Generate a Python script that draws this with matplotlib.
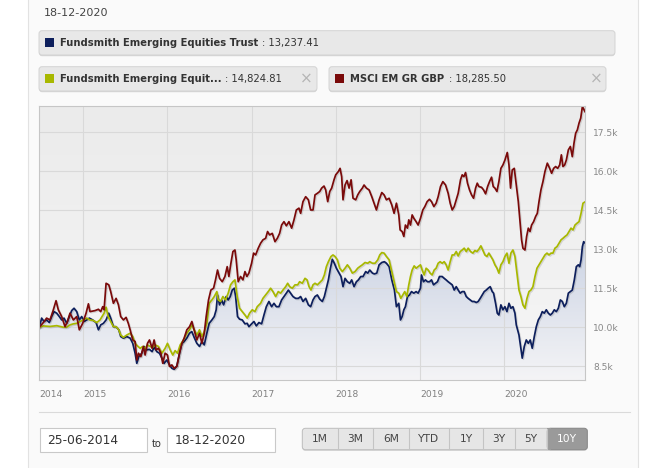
import numpy as np
import matplotlib.pyplot as plt
import matplotlib.patheffects as pe
from matplotlib.patches import FancyBboxPatch, Rectangle
from matplotlib.colors import LinearSegmentedColormap

# --- data (values in thousands, x = decimal year) ---
trust_t = [2014.476, 2014.504, 2014.532, 2014.563, 2014.595, 2014.623, 2014.651, 2014.683, 2014.714, 2014.742,
           2014.770, 2014.802, 2014.833, 2014.861, 2014.889, 2014.921, 2014.952, 2014.980, 2015.008, 2015.040,
           2015.071, 2015.111, 2015.151, 2015.179, 2015.206, 2015.238, 2015.270, 2015.302, 2015.325, 2015.357,
           2015.389, 2015.421, 2015.444, 2015.476, 2015.516, 2015.556, 2015.587, 2015.615, 2015.635, 2015.659,
           2015.694, 2015.722, 2015.754, 2015.786, 2015.817, 2015.841, 2015.873, 2015.905, 2015.933, 2015.960,
           2015.992, 2016.024, 2016.052, 2016.079, 2016.111, 2016.143, 2016.171, 2016.198, 2016.230, 2016.262,
           2016.290, 2016.317, 2016.349, 2016.381, 2016.409, 2016.437, 2016.468, 2016.496, 2016.528, 2016.556,
           2016.579, 2016.595, 2016.619, 2016.643, 2016.667, 2016.698, 2016.722, 2016.746, 2016.770, 2016.794,
           2016.810, 2016.833, 2016.857, 2016.889, 2016.921, 2016.948, 2016.968, 2017.000, 2017.028, 2017.056,
           2017.087, 2017.119, 2017.147, 2017.175, 2017.206, 2017.238, 2017.266, 2017.294, 2017.325, 2017.357,
           2017.385, 2017.413, 2017.437, 2017.464, 2017.492, 2017.524, 2017.556, 2017.583, 2017.611, 2017.643,
           2017.675, 2017.702, 2017.730, 2017.754, 2017.782, 2017.810, 2017.841, 2017.865, 2017.889, 2017.913,
           2017.937, 2017.960, 2017.984, 2018.008, 2018.040, 2018.063, 2018.087, 2018.111, 2018.139, 2018.167,
           2018.190, 2018.218, 2018.246, 2018.270, 2018.298, 2018.325, 2018.357, 2018.381, 2018.405, 2018.437,
           2018.460, 2018.488, 2018.516, 2018.548, 2018.579, 2018.603, 2018.635, 2018.667, 2018.698, 2018.722,
           2018.750, 2018.770, 2018.790, 2018.810, 2018.829, 2018.853, 2018.877, 2018.901, 2018.929, 2018.956,
           2018.980, 2019.008, 2019.020, 2019.044, 2019.067, 2019.091, 2019.115, 2019.139, 2019.163, 2019.187,
           2019.210, 2019.234, 2019.266, 2019.290, 2019.313, 2019.337, 2019.361, 2019.385, 2019.409, 2019.433,
           2019.456, 2019.480, 2019.504, 2019.528, 2019.552, 2019.575, 2019.599, 2019.623, 2019.647, 2019.671,
           2019.694, 2019.718, 2019.742, 2019.766, 2019.790, 2019.813, 2019.837, 2019.861, 2019.877, 2019.901,
           2019.921, 2019.940, 2019.964, 2019.988, 2020.012, 2020.036, 2020.060, 2020.083, 2020.107, 2020.131,
           2020.147, 2020.163, 2020.179, 2020.202, 2020.218, 2020.242, 2020.266, 2020.290, 2020.313, 2020.337,
           2020.361, 2020.385, 2020.409, 2020.433, 2020.456, 2020.480, 2020.504, 2020.528, 2020.552, 2020.575,
           2020.599, 2020.623, 2020.647, 2020.671, 2020.694, 2020.718, 2020.742, 2020.766, 2020.790, 2020.813,
           2020.837, 2020.861, 2020.885, 2020.901, 2020.917, 2020.933, 2020.948, 2020.964]
trust_k = [10.00, 10.35, 10.22, 10.28, 10.18, 10.41, 10.60, 10.54, 10.41, 10.28,
           10.35, 10.15, 10.41, 10.64, 10.73, 10.60, 10.28, 10.41, 10.22, 10.28,
           10.35, 10.28, 10.18, 9.90, 10.09, 10.15, 10.28, 10.54, 10.35, 10.02,
           10.02, 9.90, 9.64, 9.58, 9.64, 9.58, 9.38, 9.00, 8.61, 8.87,
           9.00, 9.26, 9.13, 9.15, 9.06, 9.23, 9.06, 9.00, 8.81, 8.61,
           8.74, 8.55, 8.42, 8.38, 8.51, 9.00, 9.38, 9.45, 9.58, 9.77,
           9.83, 9.61, 9.38, 9.26, 9.45, 9.32, 9.77, 10.15, 10.28, 10.41,
           10.67, 11.24, 10.86, 11.05, 10.86, 11.18, 11.05, 11.18, 11.43, 11.50,
           11.18, 10.41, 10.31, 10.28, 10.13, 10.15, 10.02, 10.13, 10.22, 10.05,
           10.18, 10.13, 10.47, 10.79, 10.99, 10.79, 10.92, 10.79, 10.79, 11.05,
           11.18, 11.31, 11.43, 11.31, 11.18, 11.11, 11.11, 11.18, 10.99, 11.11,
           10.86, 10.79, 11.05, 11.18, 11.24, 11.08, 10.99, 11.18, 11.50, 11.82,
           12.27, 12.61, 12.46, 12.27, 12.08, 11.95, 11.56, 11.88, 11.75, 11.69,
           11.82, 11.56, 11.75, 11.82, 11.95, 11.95, 12.14, 12.08, 12.20, 12.08,
           12.05, 12.08, 12.40, 12.49, 12.52, 12.46, 12.33, 11.82, 11.43, 10.79,
           10.92, 10.28, 10.41, 10.67, 10.79, 11.18, 11.24, 11.37, 11.31, 11.37,
           11.31, 11.50, 12.01, 11.75, 11.82, 11.75, 11.75, 11.82, 11.63, 11.69,
           11.75, 11.95, 11.95, 11.88, 11.82, 11.75, 11.69, 11.63, 11.43, 11.56,
           11.43, 11.31, 11.37, 11.37, 11.18, 11.11, 11.05, 10.99, 10.99, 10.95,
           10.99, 11.11, 11.24, 11.37, 11.43, 11.50, 11.56, 11.37, 11.31, 10.92,
           10.54, 10.47, 10.86, 10.67, 10.79, 10.60, 10.92, 10.73, 10.79, 10.54,
           10.09, 9.90, 9.70, 9.19, 8.81, 9.26, 9.51, 9.38, 9.51, 9.19,
           9.64, 10.02, 10.28, 10.41, 10.60, 10.54, 10.67, 10.54, 10.47, 10.54,
           10.67, 10.60, 10.73, 11.05, 10.99, 10.79, 10.92, 11.31, 11.37, 11.43,
           11.82, 12.33, 12.40, 12.33, 12.59, 13.10, 13.29, 13.24]

fund_t = [2014.476, 2014.524, 2014.603, 2014.683, 2014.762, 2014.802, 2014.841, 2014.881, 2014.921, 2014.960,
          2015.000, 2015.040, 2015.079, 2015.119, 2015.159, 2015.198, 2015.246, 2015.270, 2015.294, 2015.325,
          2015.357, 2015.389, 2015.421, 2015.444, 2015.476, 2015.516, 2015.556, 2015.587, 2015.615, 2015.643,
          2015.675, 2015.706, 2015.734, 2015.762, 2015.794, 2015.825, 2015.853, 2015.893, 2015.933, 2015.972,
          2016.000, 2016.032, 2016.063, 2016.091, 2016.119, 2016.151, 2016.190, 2016.230, 2016.262, 2016.290,
          2016.317, 2016.349, 2016.381, 2016.409, 2016.437, 2016.468, 2016.496, 2016.528, 2016.556, 2016.587,
          2016.603, 2016.631, 2016.659, 2016.690, 2016.722, 2016.750, 2016.778, 2016.802, 2016.829, 2016.857,
          2016.889, 2016.921, 2016.948, 2016.976, 2017.008, 2017.040, 2017.067, 2017.107, 2017.135, 2017.167,
          2017.198, 2017.226, 2017.254, 2017.286, 2017.317, 2017.345, 2017.373, 2017.405, 2017.429, 2017.452,
          2017.484, 2017.516, 2017.548, 2017.571, 2017.603, 2017.635, 2017.659, 2017.683, 2017.706, 2017.730,
          2017.754, 2017.782, 2017.810, 2017.841, 2017.865, 2017.889, 2017.913, 2017.944, 2017.968, 2017.992,
          2018.020, 2018.048, 2018.079, 2018.111, 2018.139, 2018.167, 2018.198, 2018.230, 2018.262, 2018.286,
          2018.317, 2018.349, 2018.381, 2018.405, 2018.437, 2018.468, 2018.500, 2018.524, 2018.548, 2018.575,
          2018.603, 2018.635, 2018.667, 2018.698, 2018.722, 2018.750, 2018.774, 2018.798, 2018.821, 2018.845,
          2018.869, 2018.889, 2018.909, 2018.933, 2018.956, 2018.980, 2019.008, 2019.028, 2019.052, 2019.075,
          2019.099, 2019.123, 2019.147, 2019.171, 2019.194, 2019.218, 2019.242, 2019.266, 2019.290, 2019.313,
          2019.337, 2019.361, 2019.385, 2019.409, 2019.433, 2019.456, 2019.480, 2019.504, 2019.528, 2019.552,
          2019.575, 2019.603, 2019.631, 2019.655, 2019.679, 2019.702, 2019.726, 2019.750, 2019.774, 2019.798,
          2019.821, 2019.845, 2019.869, 2019.893, 2019.917, 2019.940, 2019.964, 2019.988, 2020.012, 2020.036,
          2020.060, 2020.083, 2020.107, 2020.131, 2020.155, 2020.179, 2020.202, 2020.226, 2020.250, 2020.274,
          2020.298, 2020.321, 2020.345, 2020.369, 2020.393, 2020.417, 2020.440, 2020.464, 2020.488, 2020.512,
          2020.536, 2020.560, 2020.583, 2020.607, 2020.631, 2020.655, 2020.679, 2020.702, 2020.726, 2020.750,
          2020.774, 2020.798, 2020.821, 2020.845, 2020.869, 2020.893, 2020.917, 2020.940, 2020.964]
fund_k = [10.00, 10.05, 10.03, 10.06, 10.00, 10.00, 10.09, 10.13, 10.15, 10.22,
          10.28, 10.35, 10.28, 10.26, 10.18, 10.28, 10.54, 10.77, 10.41, 10.22,
          10.02, 10.02, 9.90, 9.70, 9.61, 9.70, 9.77, 9.64, 9.38, 9.28,
          9.19, 9.26, 9.19, 9.32, 9.26, 9.23, 9.32, 9.26, 9.00, 9.19,
          9.38, 9.13, 8.93, 9.10, 9.00, 9.32, 9.51, 9.77, 9.90, 10.09,
          9.90, 9.70, 9.90, 9.64, 9.83, 10.15, 10.92, 11.05, 11.18, 11.37,
          11.05, 10.99, 11.18, 11.05, 11.31, 11.63, 11.75, 11.82, 11.18, 10.73,
          10.60, 10.47, 10.35, 10.54, 10.67, 10.60, 10.79, 10.92, 11.11, 11.24,
          11.37, 11.50, 11.37, 11.18, 11.37, 11.31, 11.43, 11.56, 11.69, 11.56,
          11.50, 11.63, 11.63, 11.75, 11.69, 11.88, 11.82, 11.56, 11.43, 11.63,
          11.69, 11.63, 11.72, 11.82, 12.01, 12.33, 12.52, 12.72, 12.78, 12.72,
          12.59, 12.27, 12.14, 12.27, 12.40, 12.27, 12.08, 12.14, 12.27, 12.33,
          12.40, 12.49, 12.46, 12.52, 12.46, 12.46, 12.59, 12.78, 12.87, 12.85,
          12.72, 12.59, 12.14, 11.69, 11.37, 11.31, 11.11, 11.24, 11.37, 11.18,
          11.63, 11.95, 12.20, 12.36, 12.27, 12.33, 12.40, 12.20, 12.01, 12.27,
          12.20, 12.08, 12.01, 12.20, 12.27, 12.46, 12.52, 12.46, 12.52, 12.40,
          12.20, 12.52, 12.78, 12.78, 12.91, 12.74, 12.91, 12.97, 13.04, 12.91,
          13.04, 12.91, 12.85, 12.95, 12.91, 13.00, 13.13, 12.95, 12.78, 12.72,
          12.85, 12.72, 12.59, 12.40, 12.27, 12.08, 12.40, 12.52, 12.72, 12.85,
          12.46, 12.85, 12.97, 12.72, 12.08, 11.43, 11.18, 10.86, 10.73, 11.11,
          11.37, 11.43, 11.56, 11.95, 12.27, 12.40, 12.52, 12.65, 12.78, 12.85,
          12.78, 12.85, 12.85, 13.04, 13.10, 13.23, 13.36, 13.42, 13.49, 13.55,
          13.68, 13.81, 13.74, 13.93, 14.00, 14.06, 14.38, 14.77, 14.82]

msci_t = [2014.476, 2014.524, 2014.563, 2014.603, 2014.643, 2014.675, 2014.702, 2014.742, 2014.782, 2014.810,
          2014.841, 2014.881, 2014.921, 2014.952, 2014.992, 2015.032, 2015.060, 2015.079, 2015.139, 2015.179,
          2015.206, 2015.230, 2015.246, 2015.270, 2015.302, 2015.325, 2015.357, 2015.389, 2015.417, 2015.444,
          2015.476, 2015.508, 2015.536, 2015.556, 2015.587, 2015.615, 2015.635, 2015.655, 2015.683, 2015.714,
          2015.734, 2015.762, 2015.786, 2015.817, 2015.841, 2015.865, 2015.893, 2015.921, 2015.944, 2015.972,
          2016.000, 2016.024, 2016.052, 2016.079, 2016.111, 2016.143, 2016.171, 2016.198, 2016.230, 2016.262,
          2016.290, 2016.317, 2016.349, 2016.381, 2016.409, 2016.437, 2016.460, 2016.488, 2016.516, 2016.548,
          2016.571, 2016.595, 2016.619, 2016.651, 2016.683, 2016.710, 2016.730, 2016.754, 2016.778, 2016.802,
          2016.817, 2016.841, 2016.869, 2016.897, 2016.921, 2016.944, 2016.968, 2017.000, 2017.024, 2017.048,
          2017.079, 2017.107, 2017.135, 2017.167, 2017.190, 2017.214, 2017.246, 2017.278, 2017.306, 2017.333,
          2017.357, 2017.385, 2017.413, 2017.444, 2017.476, 2017.504, 2017.532, 2017.563, 2017.583, 2017.611,
          2017.643, 2017.675, 2017.702, 2017.730, 2017.754, 2017.782, 2017.810, 2017.833, 2017.861, 2017.881,
          2017.905, 2017.929, 2017.952, 2017.980, 2018.000, 2018.032, 2018.052, 2018.071, 2018.087, 2018.111,
          2018.135, 2018.159, 2018.183, 2018.206, 2018.238, 2018.262, 2018.286, 2018.317, 2018.337, 2018.365,
          2018.397, 2018.429, 2018.456, 2018.484, 2018.516, 2018.548, 2018.575, 2018.603, 2018.635, 2018.667,
          2018.694, 2018.722, 2018.750, 2018.766, 2018.790, 2018.810, 2018.829, 2018.853, 2018.869, 2018.889,
          2018.909, 2018.929, 2018.956, 2018.980, 2019.008, 2019.036, 2019.060, 2019.087, 2019.115, 2019.139,
          2019.167, 2019.194, 2019.218, 2019.246, 2019.274, 2019.306, 2019.337, 2019.361, 2019.385, 2019.409,
          2019.433, 2019.456, 2019.484, 2019.504, 2019.524, 2019.544, 2019.567, 2019.591, 2019.615, 2019.639,
          2019.663, 2019.683, 2019.702, 2019.734, 2019.758, 2019.782, 2019.806, 2019.829, 2019.853, 2019.873,
          2019.893, 2019.917, 2019.940, 2019.964, 2019.988, 2020.012, 2020.040, 2020.060, 2020.079, 2020.099,
          2020.123, 2020.147, 2020.171, 2020.190, 2020.210, 2020.226, 2020.250, 2020.270, 2020.290, 2020.310,
          2020.329, 2020.353, 2020.377, 2020.397, 2020.417, 2020.440, 2020.464, 2020.488, 2020.516, 2020.544,
          2020.567, 2020.591, 2020.615, 2020.639, 2020.663, 2020.683, 2020.702, 2020.722, 2020.742, 2020.766,
          2020.790, 2020.813, 2020.833, 2020.853, 2020.873, 2020.893, 2020.913, 2020.933, 2020.964]
msci_k = [10.00, 10.18, 10.35, 10.28, 10.67, 11.02, 10.67, 10.41, 10.02, 10.22,
          10.54, 10.28, 10.41, 9.90, 10.15, 10.54, 10.90, 10.60, 10.64, 10.69,
          10.60, 10.79, 10.67, 11.69, 11.63, 11.37, 10.92, 11.11, 10.86, 10.41,
          10.28, 10.38, 10.13, 9.90, 9.51, 9.45, 8.74, 9.00, 8.87, 9.26,
          8.93, 9.38, 9.51, 9.19, 9.51, 9.13, 9.19, 9.00, 8.61, 9.00,
          8.93, 8.49, 8.55, 8.42, 8.49, 9.00, 9.38, 9.58, 9.90, 10.02,
          10.22, 9.90, 9.51, 9.77, 9.38, 9.77, 10.41, 11.05, 11.43, 11.50,
          11.82, 12.20, 11.88, 11.75, 11.95, 12.33, 11.95, 12.46, 12.91, 12.97,
          12.59, 11.75, 11.95, 11.82, 12.14, 11.95, 12.08, 12.46, 12.85, 12.78,
          13.04, 13.23, 13.36, 13.42, 13.68, 13.55, 13.61, 13.29, 13.42, 13.61,
          13.93, 14.06, 13.90, 14.06, 13.81, 14.13, 14.51, 14.58, 14.38, 14.83,
          15.02, 14.90, 14.51, 14.51, 15.09, 15.15, 15.22, 15.35, 15.43, 15.28,
          14.83, 15.22, 15.35, 15.67, 15.86, 15.99, 16.11, 15.79, 14.90, 15.47,
          15.64, 15.35, 15.67, 14.96, 14.90, 15.09, 15.22, 15.35, 15.47, 15.35,
          15.28, 15.02, 14.77, 14.51, 14.90, 15.18, 15.09, 14.90, 14.96, 14.70,
          14.38, 14.77, 14.32, 13.74, 13.68, 13.49, 13.93, 13.81, 14.13, 13.93,
          14.32, 14.19, 14.06, 13.93, 14.19, 14.51, 14.64, 14.83, 14.92, 14.83,
          14.64, 14.77, 15.02, 15.41, 15.60, 15.47, 15.15, 14.77, 14.51, 14.64,
          14.90, 15.15, 15.67, 15.86, 15.79, 15.95, 15.54, 15.28, 15.09, 14.96,
          15.35, 15.54, 15.41, 15.38, 15.28, 15.13, 15.41, 15.60, 15.77, 15.41,
          15.35, 15.22, 15.60, 16.11, 16.24, 16.43, 16.72, 16.24, 15.35, 16.05,
          16.11, 15.47, 14.83, 14.13, 13.36, 13.04, 12.97, 13.49, 13.81, 13.68,
          13.93, 14.06, 14.26, 14.38, 14.83, 15.28, 15.60, 15.99, 16.31, 16.11,
          15.92, 16.11, 16.18, 16.11, 16.24, 16.63, 16.18, 16.24, 16.43, 16.82,
          16.95, 16.56, 17.08, 17.46, 17.59, 17.85, 18.04, 18.49, 18.29]

series_names = ['Fundsmith Emerging Equities Trust', 'Fundsmith Emerging Equit...', 'MSCI EM GR GBP']
series_last = [13237.41, 14824.81, 18285.50]
series_colors = ['#0d1f5c', '#a8b800', '#7a0a0a']

year_ticks = [2015, 2016, 2017, 2018, 2019, 2020]
year_labels = ['2014', '2015', '2016', '2017', '2018', '2019', '2020']
y_ticks = [8.5, 10.0, 11.5, 13.0, 14.5, 16.0, 17.5]

date_from = '25-06-2014'
date_to = '18-12-2020'
range_buttons = ['1M', '3M', '6M', 'YTD', '1Y', '3Y', '5Y', '10Y']

W, H = 650, 468
fig = plt.figure(figsize=(6.5, 4.68), dpi=100)
fig.patch.set_facecolor('white')

# pixel overlay for the page furniture
bg = fig.add_axes([0, 0, 1, 1])
bg.set_xlim(0, W)
bg.set_ylim(H, 0)
bg.axis('off')
bg.add_patch(Rectangle((28.3, -1), 609.4, H + 2, fc='#fafafa', ec='none'))
bg.plot([28.3, 28.3], [0, H], color='#e2e2e2', lw=0.8)
bg.plot([637.7, 637.7], [0, H], color='#e2e2e2', lw=0.8)

bg.text(44, 12.5, date_to, fontsize=8, color='#444444', va='center')


def pill(x0, y0, x1, y1, fc, ec, r=3):
    bg.add_patch(FancyBboxPatch((x0, y0 + 1.2), x1 - x0, y1 - y0, boxstyle=f'round,pad=0,rounding_size={r}',
                                fc='#d6d6d6', ec='none'))
    bg.add_patch(FancyBboxPatch((x0, y0), x1 - x0, y1 - y0, boxstyle=f'round,pad=0,rounding_size={r}',
                                fc=fc, ec=ec, lw=0.7))


# legend chips
chips = [(39, 30.7, 615, 55, 262, None), (39, 66.7, 317, 91, 225, 306), (329, 66.7, 606, 91, 449, 596)]
for i, (x0, y0, x1, y1, vx, cx) in enumerate(chips):
    pill(x0, y0, x1, y1, '#e8e8e8', '#d3d3d3')
    yc = (y0 + y1) / 2
    bg.add_patch(Rectangle((x0 + 5.5, yc - 5), 9.5, 9.5, fc=series_colors[i], ec='none'))
    bg.text(x0 + 21, yc, series_names[i], fontsize=7.2, fontweight='bold', color='#333333', va='center')
    bg.text(vx, yc, f': {series_last[i]:,.2f}', fontsize=7.2, color='#333333', va='center')
    if cx is not None:
        bg.text(cx, yc, '\u00d7', fontsize=11, color='#b5b5b5', va='center', ha='center')

# separator and bottom controls
bg.plot([39, 630], [412, 412], color='#dadada', lw=0.8)
for (x0, x1), txt in zip([(39.5, 147), (167, 275)], [date_from, date_to]):
    bg.add_patch(Rectangle((x0, 428), x1 - x0, 24, fc='white', ec='#c9c9c9', lw=0.8))
    bg.text(x0 + 7.5, 440.5, txt, fontsize=8.8, color='#333333', va='center')
bg.text(152, 444, 'to', fontsize=7.2, color='#333333', va='center')

edges = [302.3, 337.7, 373.3, 408.7, 449.3, 482.7, 515, 547.3, 587.3]
pill(edges[0], 428.3, edges[-1], 449.7, '#e6e6e6', '#bdbdbd', r=3)
bg.add_patch(FancyBboxPatch((edges[-2], 428.3), edges[-1] - edges[-2], 21.4,
                            boxstyle='round,pad=0,rounding_size=3', fc='#9a9a9a', ec='#8a8a8a', lw=0.7))
bg.add_patch(Rectangle((edges[-2], 428.3), 4, 21.4, fc='#9a9a9a', ec='none'))
for xs in edges[1:-1]:
    bg.plot([xs, xs], [428.6, 449.4], color='#c4c4c4', lw=0.8)
for i, lab in enumerate(range_buttons):
    xc = (edges[i] + edges[i + 1]) / 2
    active = i == len(range_buttons) - 1
    bg.text(xc, 439.5, lab, fontsize=7.7, ha='center', va='center',
            color='white' if active else '#444444')

# --- chart ---
ax = fig.add_axes([39.3 / W, (H - 380) / H, (585 - 39.3) / W, (380 - 105.7) / H])
xmin, xmax = trust_t[0], trust_t[-1]
ymin, ymax = 7.97, 18.52

grad = np.linspace(0, 1, 256).reshape(-1, 1)
bg_cmap = LinearSegmentedColormap.from_list('bgc', ['#f6f6f6', '#ebebeb'])
ax.imshow(grad, extent=[xmin, xmax, ymin, ymax], origin='lower', aspect='auto', cmap=bg_cmap, zorder=0.1)

area = ax.fill_between(trust_t, trust_k, ymin, color='none', lw=0)
fill_cmap = LinearSegmentedColormap.from_list('fc', ['#f4f4f6', '#a3b3d2'])
im = ax.imshow(grad, extent=[xmin, xmax, ymin, ymax], origin='lower', aspect='auto', cmap=fill_cmap, zorder=0.3)
im.set_clip_path(area.get_paths()[0], transform=ax.transData)

shadow = [pe.SimpleLineShadow(offset=(0.8, -0.8), shadow_color='k', alpha=0.12), pe.Normal()]
for xs, ys, c in zip([trust_t, fund_t, msci_t], [trust_k, fund_k, msci_k], series_colors):
    ax.plot(xs, ys, color=c, lw=1.25, zorder=2, path_effects=shadow, solid_joinstyle='round')

ax.set_xlim(xmin, xmax)
ax.set_ylim(ymin, ymax)
ax.set_axisbelow(True)
ax.grid(True, color='#d9d9d9', lw=0.8)

ax.set_xticks([xmin] + year_ticks)
ax.set_xticklabels(year_labels)
ax.xaxis.get_gridlines()[0].set_visible(False)
for lab in ax.get_xticklabels():
    lab.set_ha('left')
ax.tick_params(axis='x', length=0, pad=7, labelsize=6.6, labelcolor='#808080')

ax.yaxis.tick_right()
ax.set_yticks(y_ticks)
ax.set_yticklabels([f'{v:.1f}k' for v in y_ticks])
ax.tick_params(axis='y', length=0, pad=6, labelsize=6.6, labelcolor='#888888')

for sp in ax.spines.values():
    sp.set_color('#c6c6c6')
    sp.set_linewidth(0.8)

fig.savefig('out.png', dpi=100, facecolor=fig.get_facecolor())
